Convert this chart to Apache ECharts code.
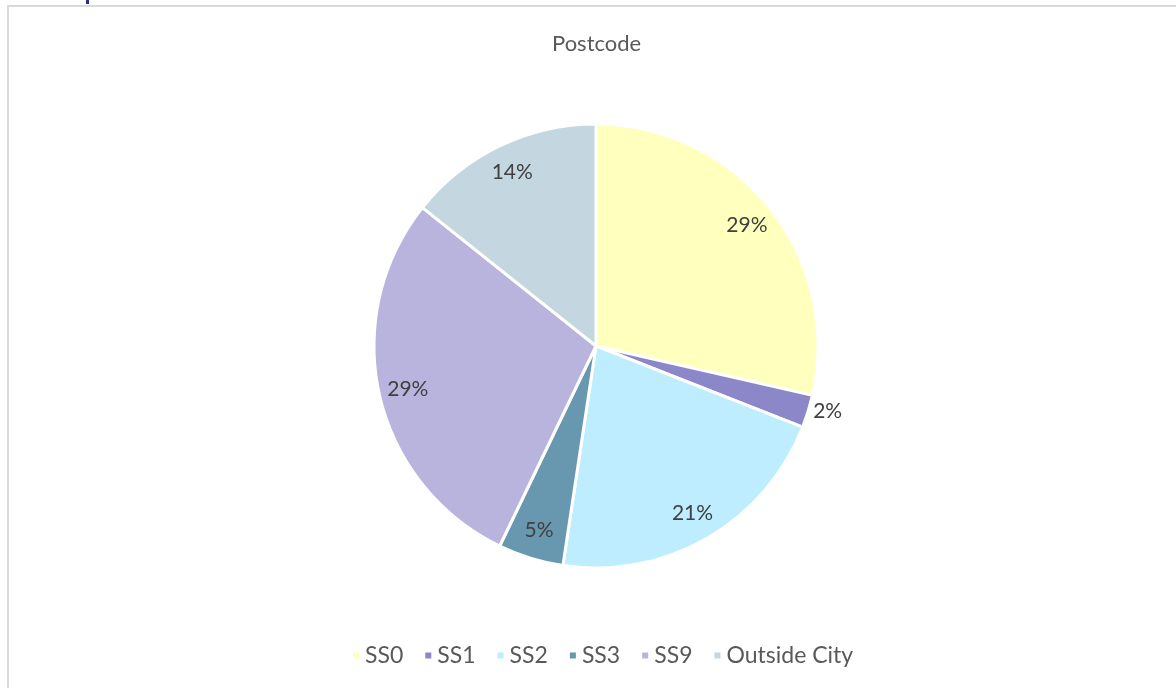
<!DOCTYPE html>
<html lang="en">
<head>
    <meta charset="UTF-8">
    <title>Postcode</title>
    <script src="https://cdn.jsdelivr.net/npm/echarts@6/dist/echarts.min.js"></script>
    <style>
        html, body { margin: 0; padding: 0; background: #fff; }
    </style>
</head>
<body>
    <div id="pie" style="width: 1176px;height: 688px"></div>
<script>
    // data (counts, shown as percent)
    var categories = ['SS0', 'SS1', 'SS2', 'SS3', 'SS9', 'Outside City'];
    var counts = [12, 1, 9, 2, 12, 6];
    var colors = ['#ffffbe', '#8b87c9', '#bdedff', '#6898b0', '#b8b4de', '#c4d6e0'];

    var chart = echarts.init(document.getElementById('pie'));
    var font = 'Lato, "Open Sans", sans-serif';

    var pieData = categories.map(function (name, i) {
        return { name: name, value: counts[i], itemStyle: { color: colors[i] } };
    });
    // transparent ring, only used to place labels near the rim
    var labelData = categories.map(function (name, i) {
        var d = { name: name, value: counts[i] };
        if (name === 'SS1') {
            d.label = { position: 'outside' };
        }
        return d;
    });

    var option = {
        animation: false,
        title: {
            text: 'Postcode',
            left: 547,
            top: 28,
            textStyle: { color: '#595959', fontFamily: font, fontWeight: 'normal', fontSize: 22 }
        },
        legend: {
            data: categories,
            bottom: 16,
            left: 346,
            icon: 'rect',
            itemWidth: 8,
            itemHeight: 8,
            itemGap: 20,
            textStyle: { color: '#595959', fontFamily: font, fontSize: 23 }
        },
        graphic: [
            { type: 'line', shape: { x1: 7, y1: 6, x2: 1176, y2: 6 }, style: { stroke: '#d9d9d9', lineWidth: 2 } },
            { type: 'line', shape: { x1: 8, y1: 6, x2: 8, y2: 688 }, style: { stroke: '#d9d9d9', lineWidth: 2 } },
            { type: 'rect', shape: { x: 86, y: 0, width: 3, height: 4 }, style: { fill: '#2e2f7f' } }
        ],
        series: [
            {
                name: 'Postcode',
                type: 'pie',
                center: [596, 346],
                radius: [0, 222],
                startAngle: 90,
                clockwise: true,
                label: { show: false },
                labelLine: { show: false },
                itemStyle: { borderColor: '#fff', borderWidth: 3 },
                emphasis: { disabled: true },
                data: pieData
            },
            {
                name: 'labels',
                type: 'pie',
                center: [596, 346],
                radius: [158, 222],
                startAngle: 90,
                clockwise: true,
                silent: true,
                itemStyle: { color: 'rgba(0,0,0,0)' },
                label: {
                    show: true,
                    position: 'inside',
                    color: '#404040',
                    fontFamily: font,
                    fontSize: 21,
                    formatter: function (p) { return Math.round(p.percent) + '%'; }
                },
                labelLine: { show: false, length: 0, length2: 0 },
                emphasis: { disabled: true },
                data: labelData
            }
        ]
    };
    chart.setOption(option);
</script>
</body>
</html>
